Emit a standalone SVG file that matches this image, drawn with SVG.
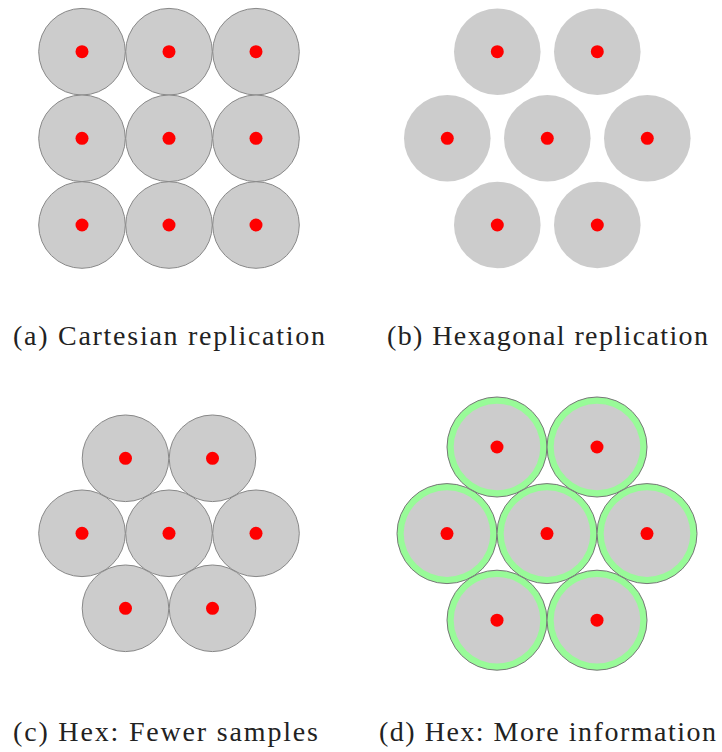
<svg xmlns="http://www.w3.org/2000/svg" width="722" height="752" viewBox="0 0 722 752">
<style>
.c{fill:#cccccc;stroke:#888888;stroke-width:1}
.n{fill:#cccccc;stroke:none}
.g{fill:#98fb98;stroke:#777777;stroke-width:1}
.d{fill:#ff0000}
.t{font-family:"Liberation Serif","Times New Roman",serif;font-size:28px;fill:#222}
</style>
<defs>
<g id="cs"><circle class="c" r="43.3"/><circle class="d" r="6.5"/></g>
<g id="ns"><circle class="n" r="43.3"/><circle class="d" r="6.5"/></g>
<g id="gs"><circle class="g" r="50"/><circle class="n" r="43.3"/><circle class="d" r="6.5"/></g>
</defs>
<g id="panel-a">
<use href="#cs" x="82" y="51.7"/><use href="#cs" x="169" y="51.7"/><use href="#cs" x="256" y="51.7"/>
<use href="#cs" x="82" y="138.3"/><use href="#cs" x="169" y="138.3"/><use href="#cs" x="256" y="138.3"/>
<use href="#cs" x="82" y="225"/><use href="#cs" x="169" y="225"/><use href="#cs" x="256" y="225"/>
<text class="t" x="13" y="345" textLength="312">(a) Cartesian replication</text>
</g>
<g id="panel-b">
<use href="#ns" x="497.3" y="51.7"/><use href="#ns" x="597.3" y="51.7"/>
<use href="#ns" x="447.3" y="138.3"/><use href="#ns" x="547.3" y="138.3"/><use href="#ns" x="647.3" y="138.3"/>
<use href="#ns" x="497.3" y="225"/><use href="#ns" x="597.3" y="225"/>
<text class="t" x="387" y="345" textLength="321">(b) Hexagonal replication</text>
</g>
<g id="panel-c">
<use href="#cs" x="125.5" y="458.3"/><use href="#cs" x="212.5" y="458.3"/>
<use href="#cs" x="82" y="533.3"/><use href="#cs" x="169" y="533.3"/><use href="#cs" x="256" y="533.3"/>
<use href="#cs" x="125.5" y="608.3"/><use href="#cs" x="212.5" y="608.3"/>
<text class="t" x="13" y="741" textLength="305">(c) Hex:  Fewer samples</text>
</g>
<g id="panel-d">
<use href="#gs" x="497" y="447"/><use href="#gs" x="597" y="447"/>
<use href="#gs" x="447" y="533.6"/><use href="#gs" x="547" y="533.6"/><use href="#gs" x="647" y="533.6"/>
<use href="#gs" x="497" y="620.2"/><use href="#gs" x="597" y="620.2"/>
<text class="t" x="379" y="741" textLength="337">(d) Hex:  More information</text>
</g>
</svg>
